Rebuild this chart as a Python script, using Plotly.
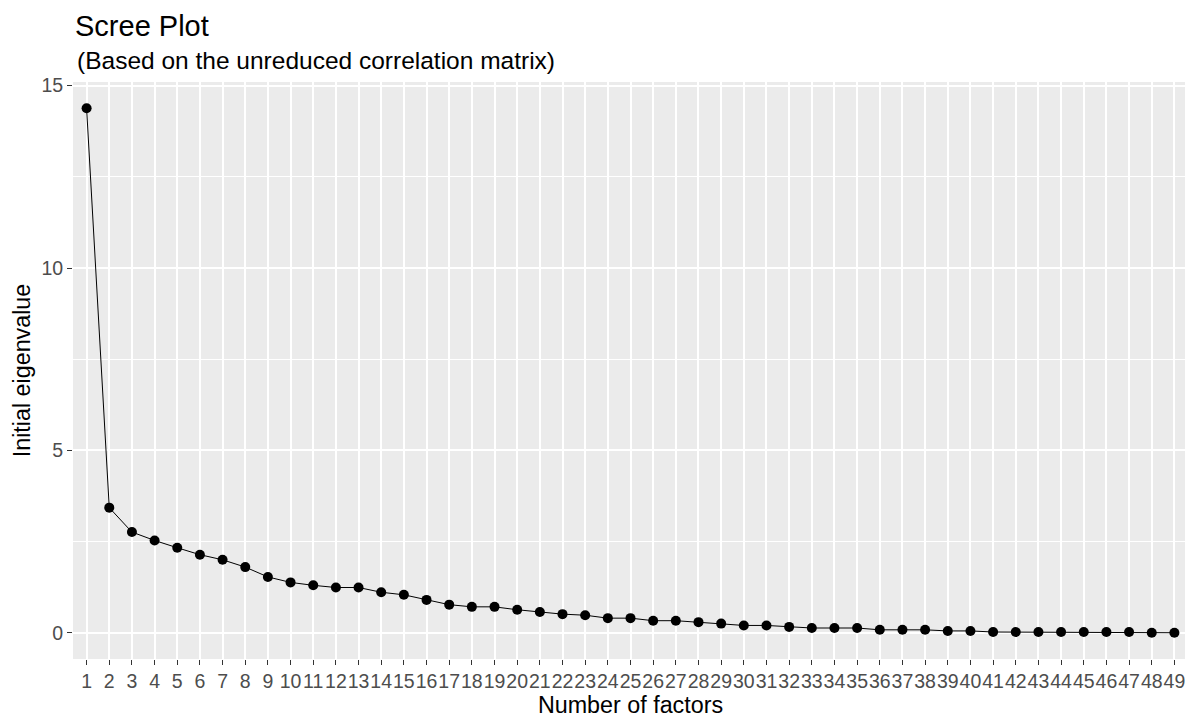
import plotly.graph_objects as go

factors = list(range(1, 50))
tick_labels = [str(i) for i in factors]
eigenvalues = [14.38, 3.43, 2.76, 2.53, 2.33, 2.14, 2.00, 1.80, 1.53, 1.38,
               1.30, 1.24, 1.24, 1.11, 1.04, 0.90, 0.77, 0.71, 0.71, 0.63,
               0.57, 0.51, 0.48, 0.40, 0.40, 0.33, 0.33, 0.29, 0.25, 0.20,
               0.20, 0.16, 0.13, 0.13, 0.13, 0.08, 0.08, 0.08, 0.05, 0.05,
               0.02, 0.02, 0.02, 0.02, 0.02, 0.02, 0.02, 0.00, 0.00]
y_ticks = [0, 5, 10, 15]

title_text = "Scree Plot"
subtitle_text = "(Based on the unreduced correlation matrix)"
x_title = "Number of factors"
y_title = "Initial eigenvalue"

FONT = "Liberation Sans, Arial, sans-serif"

# The page body has an 8px margin, so the figure is sized to fit the window.
W, H = 1185, 717
ML, MR, MT, MB = 65, 5, 74, 66
PH = H - MT - MB
PW = W - ML - MR

fig = go.Figure()
fig.add_trace(go.Scatter(
    x=factors, y=eigenvalues, mode="lines+markers",
    line=dict(color="black", width=1),
    marker=dict(color="black", size=10),
    showlegend=False,
))

fig.update_layout(
    width=W, height=H,
    margin=dict(l=ML, r=MR, t=MT, b=MB),
    paper_bgcolor="white",
    plot_bgcolor="#EBEBEB",
    font=dict(family=FONT, color="black"),
    annotations=[
        dict(text=title_text, x=1 / PW, xref="paper", xanchor="left",
             y=1 + (MT - 1) / PH, yref="paper", yanchor="top", borderpad=0,
             showarrow=False, font=dict(size=29, family=FONT, color="black")),
        dict(text=subtitle_text, x=2 / PW, xref="paper", xanchor="left",
             y=1 + (MT - 52) / PH, yref="paper", yanchor="middle",
             showarrow=False, font=dict(size=24.5, family=FONT, color="black")),
    ],
)

fig.update_xaxes(
    range=[0.4, 49.6], automargin=False,
    tickmode="array", tickvals=factors, ticktext=tick_labels, tickangle=0,
    showgrid=True, gridcolor="white", gridwidth=1.6,
    zeroline=False, showline=False,
    ticks="outside", ticklen=5, tickwidth=1.2, tickcolor="#333333",
    tickfont=dict(size=19.5, family=FONT, color="#4D4D4D"),
    title=dict(text=x_title, font=dict(size=23.3, family=FONT, color="black"), standoff=2),
)
fig.update_yaxes(
    range=[-0.72, 15.1], automargin=False,
    tickmode="array", tickvals=y_ticks,
    showgrid=True, gridcolor="white", gridwidth=1.6,
    minor=dict(tickmode="array", tickvals=[2.5, 7.5, 12.5], showgrid=True,
               gridcolor="white", gridwidth=0.8, ticks=""),
    zeroline=False, showline=False,
    ticks="outside", ticklen=5, tickwidth=1.2, tickcolor="#333333",
    tickfont=dict(size=19.5, family=FONT, color="#4D4D4D"),
    title=dict(text=y_title, font=dict(size=23.3, family=FONT, color="black"), standoff=4),
)

fig.write_html("out.html")
